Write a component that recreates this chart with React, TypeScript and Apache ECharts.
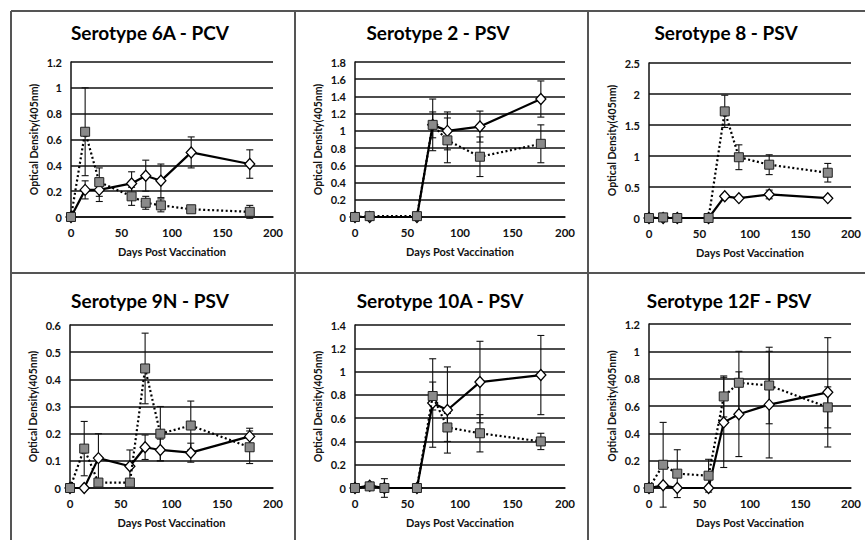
import React, { useEffect, useRef } from 'react';
import * as echarts from 'echarts';

// ---- Data ----
const titles = [
  'Serotype 6A - PCV',
  'Serotype 2 - PSV',
  'Serotype 8 - PSV',
  'Serotype 9N - PSV',
  'Serotype 10A - PSV',
  'Serotype 12F - PSV',
];

const xTickMax = 200;
const xTickStep = 50;
const yMax = [1.2, 1.8, 2.5, 0.6, 1.4, 1.2];
const yStep = [0.2, 0.2, 0.5, 0.1, 0.2, 0.2];

// Serotype 6A
const days6A = [0, 14, 28, 60, 74, 89, 119, 177];
const diamond6A = [0, 0.21, 0.21, 0.26, 0.32, 0.28, 0.5, 0.41];
const diamondErr6A = [0, 0.07, 0.09, 0.09, 0.12, 0.13, 0.12, 0.11];
const square6A = [0, 0.66, 0.27, 0.16, 0.11, 0.09, 0.06, 0.04];
const squareErr6A = [0, 0.34, 0.11, 0.07, 0.05, 0.05, 0.02, 0.05];

// Serotype 2
const days2 = [0, 14, 59, 74, 88, 119, 177];
const diamond2 = [0, 0, 0, 1.07, 1.0, 1.05, 1.37];
const diamondErr2 = [0, 0, 0, 0.3, 0.22, 0.18, 0.21];
const square2 = [0, 0.01, 0.01, 1.07, 0.89, 0.7, 0.85];
const squareErr2 = [0, 0, 0, 0.15, 0.26, 0.23, 0.22];

// Serotype 8
const days8 = [0, 14, 28, 59, 75, 89, 119, 177];
const diamond8 = [0, 0, 0, 0, 0.35, 0.32, 0.38, 0.32];
const diamondErr8 = [0, 0, 0, 0, 0.03, 0.02, 0.07, 0.02];
const square8 = [0, 0.01, 0, 0, 1.72, 0.98, 0.86, 0.73];
const squareErr8 = [0, 0, 0, 0, 0.26, 0.2, 0.16, 0.15];

// Serotype 9N
const days9N = [0, 14, 28, 59, 74, 89, 119, 177];
const diamond9N = [0, 0, 0.11, 0.08, 0.15, 0.14, 0.13, 0.19];
const diamondErr9N = [0, 0, 0.09, 0.06, 0.045, 0.04, 0.035, 0.03];
const square9N = [0, 0.145, 0.02, 0.02, 0.44, 0.2, 0.23, 0.15];
const squareErr9N = [0, 0.1, 0.01, 0.01, 0.13, 0.1, 0.09, 0.06];

// Serotype 10A
const days10A = [0, 14, 28, 59, 74, 88, 119, 177];
const diamond10A = [0, 0.02, 0, 0, 0.73, 0.67, 0.91, 0.97];
const diamondErr10A = [0, 0.02, 0, 0, 0.38, 0.37, 0.35, 0.34];
const square10A = [0, 0.014, 0, 0, 0.79, 0.52, 0.47, 0.4];
const squareErr10A = [0, 0.02, 0.08, 0, 0.12, 0.12, 0.16, 0.07];

// Serotype 12F
const days12F = [0, 14, 28, 59, 74, 89, 119, 177];
const diamond12F = [0, 0.02, 0, 0, 0.48, 0.54, 0.61, 0.7];
const diamondErr12F = [0, 0, 0, 0, 0.33, 0.31, 0.39, 0.4];
const square12F = [0, 0.17, 0.105, 0.09, 0.67, 0.77, 0.75, 0.59];
const squareErr12F = [0, 0.31, 0.175, 0.12, 0.15, 0.23, 0.28, 0.15];

const panelDays = [days6A, days2, days8, days9N, days10A, days12F];
const panelDiamond = [diamond6A, diamond2, diamond8, diamond9N, diamond10A, diamond12F];
const panelDiamondErr = [diamondErr6A, diamondErr2, diamondErr8, diamondErr9N, diamondErr10A, diamondErr12F];
const panelSquare = [square6A, square2, square8, square9N, square10A, square12F];
const panelSquareErr = [squareErr6A, squareErr2, squareErr8, squareErr9N, squareErr10A, squareErr12F];

const xName = 'Days Post Vaccination';
const yName = 'Optical Density(405nm)';

// ---- Layout ----
const gridBoxes = [
  { left: 71, top: 62, width: 202, height: 155 },
  { left: 355, top: 62, width: 210, height: 155 },
  { left: 649, top: 63, width: 202, height: 155 },
  { left: 70, top: 325, width: 203, height: 163 },
  { left: 355, top: 325, width: 210, height: 163 },
  { left: 649, top: 324, width: 202, height: 164 },
];
const titleCenters = [
  [150, 23],
  [438, 23],
  [726, 23],
  [150, 291],
  [440, 291],
  [729, 291],
];

const FONT = 'Lato, "Liberation Sans", sans-serif';

function errorBarSeries(idx: number, days: number[], vals: number[], errs: number[]) {
  return {
    type: 'custom',
    xAxisIndex: idx,
    yAxisIndex: idx,
    z: 2,
    silent: true,
    encode: { x: 0, y: 1 },
    data: days.map((d, i) => [d, vals[i], errs[i]]),
    renderItem: (params: any, api: any) => {
      const x = api.value(0);
      const y = api.value(1);
      const e = api.value(2);
      if (!e) return { type: 'group', children: [] };
      const top = api.coord([x, y + e]);
      const bot = api.coord([x, y - e]);
      const w = 3.5;
      const st = { stroke: '#111', lineWidth: 1.1 };
      return {
        type: 'group',
        children: [
          { type: 'line', shape: { x1: top[0], y1: top[1], x2: bot[0], y2: bot[1] }, style: st },
          { type: 'line', shape: { x1: top[0] - w, y1: top[1], x2: top[0] + w, y2: top[1] }, style: st },
          { type: 'line', shape: { x1: bot[0] - w, y1: bot[1], x2: bot[0] + w, y2: bot[1] }, style: st },
        ],
      };
    },
  };
}

export default function App() {
  const ref = useRef<HTMLDivElement>(null);

  useEffect(() => {
    if (!ref.current) return;
    const chart = echarts.init(ref.current, undefined, { renderer: 'svg' });

    const grid: any[] = [];
    const xAxis: any[] = [];
    const yAxis: any[] = [];
    const series: any[] = [];
    const title: any[] = [];

    for (let i = 0; i < 6; i++) {
      grid.push({ ...gridBoxes[i], containLabel: false });
      title.push({
        text: titles[i],
        left: titleCenters[i][0],
        top: titleCenters[i][1],
        textAlign: 'center',
        padding: 0,
        textStyle: { fontFamily: FONT, fontWeight: 'bold', fontSize: 19, color: '#000' },
      });
      xAxis.push({
        type: 'value',
        gridIndex: i,
        min: 0,
        max: xTickMax,
        interval: xTickStep,
        name: xName,
        nameLocation: 'middle',
        nameGap: 29,
        nameTextStyle: { fontFamily: FONT, fontWeight: 'bold', fontSize: 11, color: '#111' },
        axisLine: { show: true, lineStyle: { color: '#111', width: 1.5 } },
        axisTick: { show: false },
        splitLine: { show: false },
        axisLabel: { fontFamily: FONT, fontWeight: 'bold', fontSize: 11.5, color: '#111', margin: 9 },
      });
      yAxis.push({
        type: 'value',
        gridIndex: i,
        min: 0,
        max: yMax[i],
        interval: yStep[i],
        name: yName,
        nameLocation: 'middle',
        nameGap: 32,
        nameTextStyle: { fontFamily: FONT, fontWeight: 'bold', fontSize: 10.5, color: '#111' },
        axisLine: { show: true, lineStyle: { color: '#111', width: 1.5 } },
        axisTick: { show: false },
        splitLine: { show: true, lineStyle: { color: '#111', width: 1.5 } },
        axisLabel: { fontFamily: FONT, fontWeight: 'bold', fontSize: 11, color: '#111', margin: 9 },
      });

      const days = panelDays[i];
      series.push(errorBarSeries(i, days, panelDiamond[i], panelDiamondErr[i]));
      series.push(errorBarSeries(i, days, panelSquare[i], panelSquareErr[i]));
      series.push({
        type: 'line',
        xAxisIndex: i,
        yAxisIndex: i,
        z: 3,
        data: days.map((d, k) => [d, panelDiamond[i][k]]),
        symbol: 'diamond',
        symbolSize: [10, 11],
        showAllSymbol: true,
        lineStyle: { color: '#000', width: 2.2 },
        itemStyle: { color: '#fff', borderColor: '#000', borderWidth: 1.3 },
      });
      series.push({
        type: 'line',
        xAxisIndex: i,
        yAxisIndex: i,
        z: 4,
        data: days.map((d, k) => [d, panelSquare[i][k]]),
        symbol: 'rect',
        symbolSize: 9,
        showAllSymbol: true,
        lineStyle: { color: '#000', width: 2.2, type: [2, 2.5] },
        itemStyle: { color: '#8a8a8a', borderColor: '#222', borderWidth: 1 },
      });
    }

    const borderStyle = { stroke: '#555', lineWidth: 2 };
    const graphic = [
      { type: 'line', shape: { x1: 11, y1: 11, x2: 865, y2: 11 }, style: borderStyle },
      { type: 'line', shape: { x1: 11, y1: 11, x2: 11, y2: 540 }, style: borderStyle },
      { type: 'line', shape: { x1: 295, y1: 11, x2: 295, y2: 540 }, style: borderStyle },
      { type: 'line', shape: { x1: 588, y1: 11, x2: 588, y2: 540 }, style: borderStyle },
      { type: 'line', shape: { x1: 11, y1: 273, x2: 865, y2: 273 }, style: borderStyle },
    ];

    chart.setOption({
      animation: false,
      backgroundColor: '#fff',
      title,
      grid,
      xAxis,
      yAxis,
      series,
      graphic,
    });

    return () => chart.dispose();
  }, []);

  return (
    <div
      ref={ref}
      style={{ position: 'fixed', left: 0, top: 0, width: 865, height: 540, background: '#fff' }}
    />
  );
}
